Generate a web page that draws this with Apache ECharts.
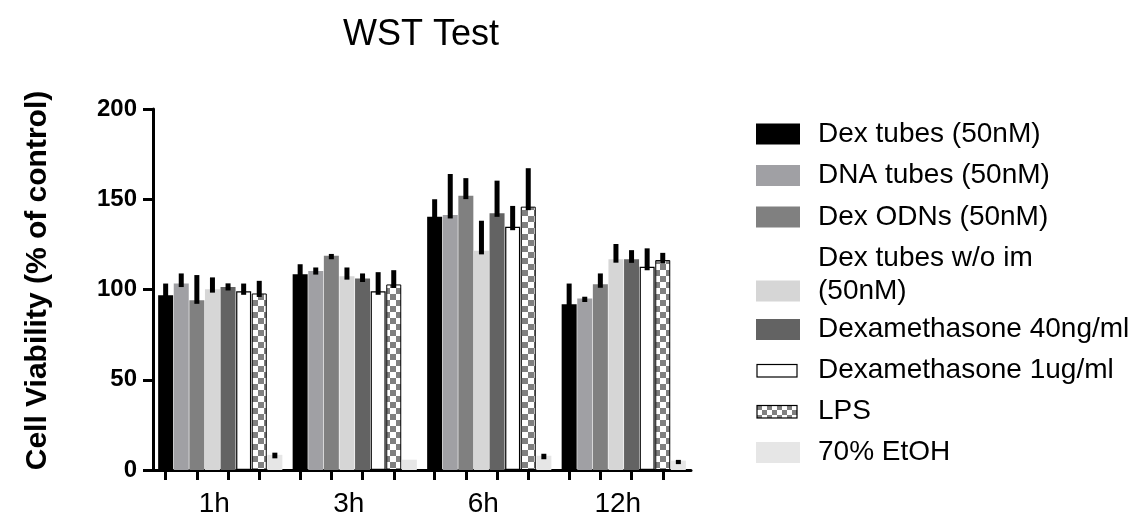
<!DOCTYPE html>
<html>
<head>
<meta charset="utf-8">
<style>
  html, body { margin: 0; padding: 0; background: #fff; }
  #chart { width: 1137px; height: 513px; }
</style>
<script src="https://cdn.jsdelivr.net/npm/echarts@6/dist/echarts.min.js"></script>
</head>
<body>
<div id="chart"></div>
<script>
// ---- data ----
const categories = ['1h', '3h', '6h', '12h'];
const seriesNames = [
  'Dex tubes (50nM)',
  'DNA tubes (50nM)',
  'Dex ODNs (50nM)',
  'Dex tubes w/o im (50nM)',
  'Dexamethasone 40ng/ml',
  'Dexamethasone 1ug/ml',
  'LPS',
  '70% EtOH'
];
const dexTubes      = [96.8, 108.5, 140.3, 91.8];
const dexTubesErr   = [6.5, 5.5, 9.7, 11.5];
const dnaTubes      = [103.3, 110.2, 141.3, 95.0];
const dnaTubesErr   = [5.6, 2.0, 22.7, 1.0];
const dexOdns       = [94.0, 118.7, 152.0, 102.9];
const dexOdnsErr    = [14.0, 1.0, 9.7, 6.0];
const dexTubesWoIm  = [100.2, 107.4, 121.4, 116.8];
const dexTubesWoImErr = [6.5, 4.8, 16.7, 8.4];
const dexa40        = [101.4, 106.1, 142.2, 116.7];
const dexa40Err     = [2.0, 2.8, 18.1, 5.1];
const dexa1ug       = [99.0, 99.0, 134.8, 112.6];
const dexa1ugErr    = [4.3, 10.6, 11.5, 10.2];
const lps           = [97.8, 102.8, 145.9, 116.3];
const lpsErr        = [7.0, 7.9, 21.3, 4.0];
const etoh          = [8.4, 5.7, 7.9, 5.2];
const etohErr       = [1.2, 0, 1.1, 0.4];
const yTicks = { min: 0, max: 200, interval: 50 };

const means = [dexTubes, dnaTubes, dexOdns, dexTubesWoIm, dexa40, dexa1ug, lps, etoh];
const errs  = [dexTubesErr, dnaTubesErr, dexOdnsErr, dexTubesWoImErr, dexa40Err, dexa1ugErr, lpsErr, etohErr];

// ---- style ----
const FONT = 'Liberation Sans, Arial, sans-serif';
const GRID = { left: 153, right: 446, top: 109, bottom: 43, outerBoundsMode: 'none', containLabel: false };
const BAR_W = 15, BAR_GAP_PX = 0.6;
const catWidth = (1137 - GRID.left - GRID.right) / categories.length;
const groupW = means.length * BAR_W + (means.length - 1) * BAR_GAP_PX;
const barOffset = i => -groupW / 2 + i * (BAR_W + BAR_GAP_PX) + BAR_W / 2;

// checker pattern for LPS
function drawChecker(ctx, x0, y0, w, h, s) {
  ctx.fillStyle = '#ffffff'; ctx.fillRect(x0, y0, w, h);
  ctx.fillStyle = '#808080';
  for (let yy = 0; yy * s < h; yy++) {
    for (let xx = 0; xx * s < w; xx++) {
      if ((xx + yy) % 2 === 0) ctx.fillRect(x0 + xx * s, y0 + yy * s, Math.min(s, w - xx * s), Math.min(s, h - yy * s));
    }
  }
}
const pc = document.createElement('canvas');
pc.width = 12; pc.height = 12;
drawChecker(pc.getContext('2d'), 0, 0, 12, 12, 6);

// small legend icons for outlined series
function smallIcon(kind) {
  const c = document.createElement('canvas');
  c.width = 44; c.height = 21;
  const ctx = c.getContext('2d');
  if (kind === 'white') { ctx.fillStyle = '#ffffff'; ctx.fillRect(1, 4, 40, 13); }
  else { drawChecker(ctx, 1, 4, 40, 13, 5); }
  ctx.strokeStyle = '#000000'; ctx.lineWidth = 1.2;
  ctx.strokeRect(1, 4.5, 40, 12.5);
  return 'image://' + c.toDataURL();
}

const styles = [
  { color: '#000000' },
  { color: '#a0a0a4' },
  { color: '#808080' },
  { color: '#d6d6d6' },
  { color: '#636363' },
  { color: '#ffffff', borderColor: '#000000', borderWidth: 1.2 },
  { color: { image: pc, repeat: 'repeat' }, borderColor: '#000000', borderWidth: 1 },
  { color: '#e6e6e6' }
];

// tick positions (under every second bar) on hidden value axis in category units
const tickValues = [];
categories.forEach((c, g) => {
  [0, 2, 4, 6].forEach(i => tickValues.push(g + 0.5 + barOffset(i) / catWidth));
});

const barSeries = seriesNames.map((name, i) => ({
  name: name,
  type: 'bar',
  xAxisIndex: 0,
  data: means[i],
  barWidth: BAR_W,
  barGap: (BAR_GAP_PX / BAR_W * 100) + '%',
  barCategoryGap: '5%',
  itemStyle: styles[i],
  emphasis: { disabled: true },
  z: 2
}));

const errData = [];
means.forEach((arr, i) => arr.forEach((v, g) => errData.push([g, v, errs[i][g], i])));

const errSeries = {
  type: 'custom',
  xAxisIndex: 0,
  data: errData,
  encode: { x: 0, y: 1 },
  z: 3,
  silent: true,
  renderItem: function (params, api) {
    const g = api.value(0), v = api.value(1), e = api.value(2), si = api.value(3);
    if (!e) return null;
    const base = api.coord([g, v]);
    const top = api.coord([g, v + e]);
    const x = base[0] + barOffset(si);
    return {
      type: 'rect',
      shape: { x: x - 2.5, y: top[1], width: 5, height: base[1] - top[1] + 3.5 },
      style: { fill: '#000000' }
    };
  }
};

const legendText = { fontFamily: FONT, fontSize: 28, color: '#000', lineHeight: 33, padding: [0, 0, 0, 13] };
const legendBase = {
  orient: 'vertical', left: 756, padding: 0, itemGap: 8, itemWidth: 44, itemHeight: 21,
  icon: 'rect', selectedMode: false, textStyle: legendText
};
const legendItem = i => {
  if (i === 5) return { name: seriesNames[i], icon: smallIcon('white') };
  if (i === 6) return { name: seriesNames[i], icon: smallIcon('checker') };
  return { name: seriesNames[i] };
};

const chart = echarts.init(document.getElementById('chart'), null, { renderer: 'canvas' });
chart.setOption({
  animation: false,
  backgroundColor: '#ffffff',
  title: {
    text: 'WST Test',
    left: 416,
    textAlign: 'center',
    top: 12,
    textStyle: { fontFamily: FONT, fontSize: 36, fontWeight: 'normal', color: '#000' }
  },
  legend: [
    Object.assign({}, legendBase, { top: 117.5, itemGap: 8.5, data: [0, 1, 2].map(legendItem) }),
    Object.assign({}, legendBase, {
      top: 241.5,
      data: [3].map(legendItem),
      formatter: n => 'Dex tubes w/o im\n(50nM)\n '
    }),
    Object.assign({}, legendBase, { top: 313, data: [4, 5, 6, 7].map(legendItem) })
  ],
  grid: GRID,
  xAxis: [
    {
      type: 'category',
      data: categories,
      position: 'bottom',
      axisLine: { lineStyle: { color: '#000', width: 3 } },
      axisTick: { show: false },
      axisLabel: { fontFamily: FONT, fontSize: 28, color: '#000', margin: 20, padding: [0, 12, 0, 0] },
      splitLine: { show: false }
    },
    {
      type: 'value',
      min: 0,
      max: categories.length,
      position: 'bottom',
      axisLine: { show: false },
      axisLabel: { show: false },
      splitLine: { show: false },
      axisTick: { show: true, customValues: tickValues, length: 10, lineStyle: { color: '#000', width: 3 } }
    }
  ],
  yAxis: {
    type: 'value',
    min: yTicks.min,
    max: yTicks.max,
    interval: yTicks.interval,
    name: 'Cell Viability (% of control)',
    nameLocation: 'middle',
    nameGap: 100,
    nameTextStyle: { fontFamily: FONT, fontSize: 30, fontWeight: 'bold', color: '#000', padding: [0, 0, 0, 18] },
    axisLine: { show: true, lineStyle: { color: '#000', width: 3 } },
    axisTick: { show: true, length: 10, lineStyle: { color: '#000', width: 3 } },
    axisLabel: { fontFamily: FONT, fontSize: 24, fontWeight: 'bold', color: '#000', margin: 16 },
    splitLine: { show: false }
  },
  series: barSeries.concat([errSeries])
});
</script>
</body>
</html>
